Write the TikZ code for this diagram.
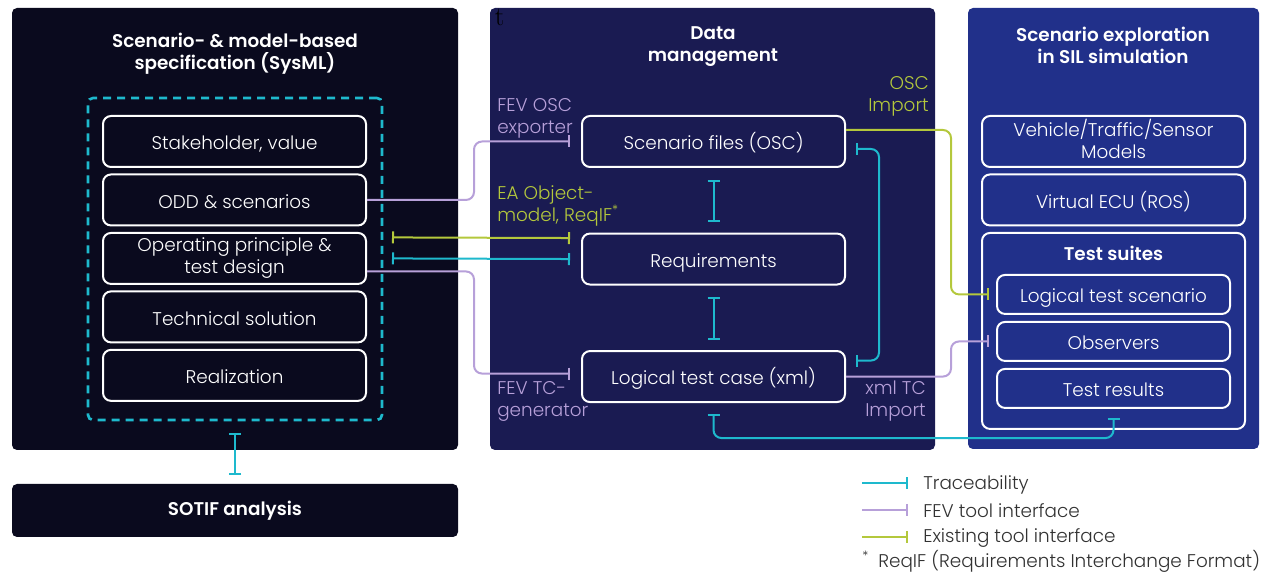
\documentclass[tikz,border=0pt]{standalone}
\usepackage{fontspec}
\newfontfamily\popfont{Poppins Light}[BoldFont={Poppins SemiBold}]
\usetikzlibrary{arrows.meta,positioning,calc}
\usepackage{xcolor}
\newcommand{\pxu}{0.75pt}
\newcommand{\boxgap}{4.1pt}
\definecolor{lpanelbg}{RGB}{10,10,30}
\definecolor{mpanelbg}{RGB}{26,27,82}
\definecolor{rpanelbg}{RGB}{33,48,138}
\definecolor{tracecl}{RGB}{30,185,205}
\definecolor{fevcl}{RGB}{183,160,217}
\definecolor{toolcl}{RGB}{180,200,60}
\definecolor{legtext}{RGB}{50,50,50}
\tikzset{
    ibar/.tip={Bar[width=9pt]},
    panelsty/.style={rectangle,rounded corners=5*\pxu,inner sep=0pt},
    boxsty/.style={draw=white,line width=1.5pt,rectangle,rounded corners=8*\pxu,minimum width=263*\pxu,minimum height=51*\pxu,inner sep=0pt,align=center,text=white,
      execute at begin node={\vrule height 16.9pt depth 0pt width 0pt},
      execute at end node={\vrule height 0pt depth 4.5pt width 0pt}},
    twolinesty/.style={execute at begin node={\vrule height #1 depth 0pt width 0pt}},
    smallboxsty/.style={boxsty,minimum width=233*\pxu,minimum height=39*\pxu},
    dashsty/.style={draw=tracecl,line width=2pt,dash pattern=on 6pt off 4.5pt,rounded corners=5*\pxu,rectangle,inner sep=0pt},
    titlesty/.style={font=\popfont\bfseries\fontsize{13.8}{16.5}\selectfont,text=white,align=center},
    tracesty/.style={draw=tracecl,line width=1.5pt,rounded corners=8*\pxu},
    fevsty/.style={draw=fevcl,line width=1.5pt,rounded corners=8*\pxu},
    toolsty/.style={draw=toolcl,line width=1.5pt,rounded corners=8*\pxu},
    fevlblsty/.style={text=fevcl,align=left,inner sep=0pt},
    toollblsty/.style={text=toolcl,align=left,inner sep=0pt},
    legsty/.style={text=legtext,anchor=west,inner sep=0pt},
}

\begin{document}
\begin{tikzpicture}[x=\pxu,y=-\pxu,font=\popfont\fontsize{13.8}{16.5}\selectfont]
  \useasboundingbox (0,0) rectangle (1265,573);

  % panels
  \node[panelsty,fill=lpanelbg,minimum width=446*\pxu,minimum height=442*\pxu] (lpanel) at (235,229) {};
  \node[panelsty,fill=lpanelbg,minimum width=446*\pxu,minimum height=53*\pxu] (sotif) at (235,510.5) {};
  \node[titlesty] at (sotif) {SOTIF analysis};
  \node[panelsty,fill=mpanelbg,minimum width=445*\pxu,minimum height=442*\pxu] (mpanel) at (712.5,229) {};
  \node[panelsty,fill=rpanelbg,minimum width=291*\pxu,minimum height=441*\pxu] (rpanel) at (1113.5,228.5) {};

  \node[titlesty] (ltitle) at (235,54) {Scenario- \& model-based\\specification (SysML)};
  \node[titlesty] (mtitle) at (713,47) {Data\\management};
  \node[titlesty] (rtitle) at (1113,45) {Scenario exploration\\in SIL simulation};
  \node[font=\normalfont\fontsize{20}{22}\selectfont,text=black,inner sep=0pt] (stray) at (499.5,17) {t};

  % specification column
  \node[dashsty,minimum width=294*\pxu,minimum height=322*\pxu] (spec) at (235,259) {};
  \node[boxsty] (stake) at (234.5,141.5) {Stakeholder, value};
  \node[boxsty,below=\boxgap of stake] (odd) {ODD \& scenarios};
  \node[boxsty,twolinesty=17pt,below=\boxgap of odd] (opp) {Operating principle \&\\test design};
  \node[boxsty,below=\boxgap of opp] (tsol) {Technical solution};
  \node[boxsty,below=\boxgap of tsol] (real) {Realization};

  % data management column
  \node[boxsty] (osc) at (713.5,141.5) {Scenario files (OSC)};
  \node[boxsty,below=48.4pt of osc] (req) {Requirements};
  \node[boxsty,below=48.4pt of req] (ltc) {Logical test case (xml)};

  % simulation column
  \node[boxsty,twolinesty=15.8pt] (veh) at (1113.5,141.5) {Vehicle/Traffic/Sensor\\Models};
  \node[boxsty,below=\boxgap of veh] (vecu) {Virtual ECU (ROS)};
  \node[draw=white,line width=1.5pt,rounded corners=8*\pxu,minimum width=263*\pxu,minimum height=196*\pxu,inner sep=0pt,below=\boxgap of vecu] (suites) {};
  \node[titlesty] (stitle) at ([yshift=-21*\pxu]suites.north) {Test suites};
  \node[smallboxsty] (lts) at ([yshift=-62.5*\pxu]suites.north) {Logical test scenario};
  \node[smallboxsty,below=4.5pt of lts] (obs) {Observers};
  \node[smallboxsty,below=4.5pt of obs] (tres) {Test results};

  % interface labels
  \node[fevlblsty,anchor=west] (lblosc) at (497,118) {FEV OSC\\exporter};
  \node[toollblsty,anchor=west] (lblea) at (497,206) {EA Object-\\model, ReqIF\textsuperscript{*}};
  \node[fevlblsty,anchor=west] (lbltc) at (497,401) {FEV TC-\\generator};
  \node[toollblsty,anchor=east,align=right] (lblimp) at (929,96) {OSC\\Import};
  \node[fevlblsty,anchor=east,align=right] (lblxml) at (926,401) {xml TC\\Import};

  % traceability
  \draw[tracesty,ibar-ibar] ([yshift=-12*\pxu]spec.south) -- ([yshift=9*\pxu]sotif.north);
  \draw[tracesty,ibar-ibar] ([yshift=-12*\pxu]osc.south) -- ([yshift=11*\pxu]req.north);
  \draw[tracesty,ibar-ibar] ([yshift=-11*\pxu]req.south) -- ([yshift=10*\pxu]ltc.north);
  \draw[tracesty,ibar-ibar] ([xshift=25*\pxu]opp.east) -- ([xshift=-11*\pxu]req.west);
  \draw[tracesty,ibar-ibar] ([xshift=10*\pxu,yshift=-7.5*\pxu]osc.east) -- ++(23,0) |- ([xshift=10*\pxu,yshift=16*\pxu]ltc.east);
  \draw[tracesty,ibar-ibar] ([yshift=-11*\pxu]ltc.south) -- ++(0,24) -| ([yshift=-9*\pxu]tres.south);

  % FEV tool interface
  \draw[fevsty,-ibar] (odd.east) -- ++(107,0) |- ([xshift=-11*\pxu]osc.west);
  \draw[fevsty,-ibar] ([yshift=-13*\pxu]opp.east) -- ++(107,0) |- ([xshift=-11*\pxu,yshift=3*\pxu]ltc.west);
  \draw[fevsty,-ibar] (ltc.east) -- ++(105,0) |- ([xshift=-7*\pxu]obs.west);

  % existing tool interface
  \draw[toolsty,ibar-ibar] ([xshift=25*\pxu,yshift=21*\pxu]opp.east) -- ([xshift=-11*\pxu,yshift=21*\pxu]req.west);
  \draw[toolsty,-ibar] ([yshift=11.5*\pxu]osc.east) -- ++(105,0) |- ([xshift=-7*\pxu]lts.west);

  % legend
  \node[legsty] (legtr) at (923,485) {Traceability};
  \node[legsty] (legfev) at (923,511) {FEV tool interface};
  \node[legsty] (legtool) at (923,538) {Existing tool interface};
  \node[legsty] (legnote) at (862,561) {\textsuperscript{*}\hspace{7pt}ReqIF (Requirements Interchange Format)};
  \draw[tracesty,-ibar] ([xshift=-61*\pxu,yshift=1.5*\pxu]legtr.west) -- ([xshift=-15*\pxu,yshift=1.5*\pxu]legtr.west);
  \draw[fevsty,-ibar] ([xshift=-61*\pxu,yshift=1*\pxu]legfev.west) -- ([xshift=-15*\pxu,yshift=1*\pxu]legfev.west);
  \draw[toolsty,-ibar] ([xshift=-61*\pxu,yshift=1*\pxu]legtool.west) -- ([xshift=-15*\pxu,yshift=1*\pxu]legtool.west);
\end{tikzpicture}
\end{document}
